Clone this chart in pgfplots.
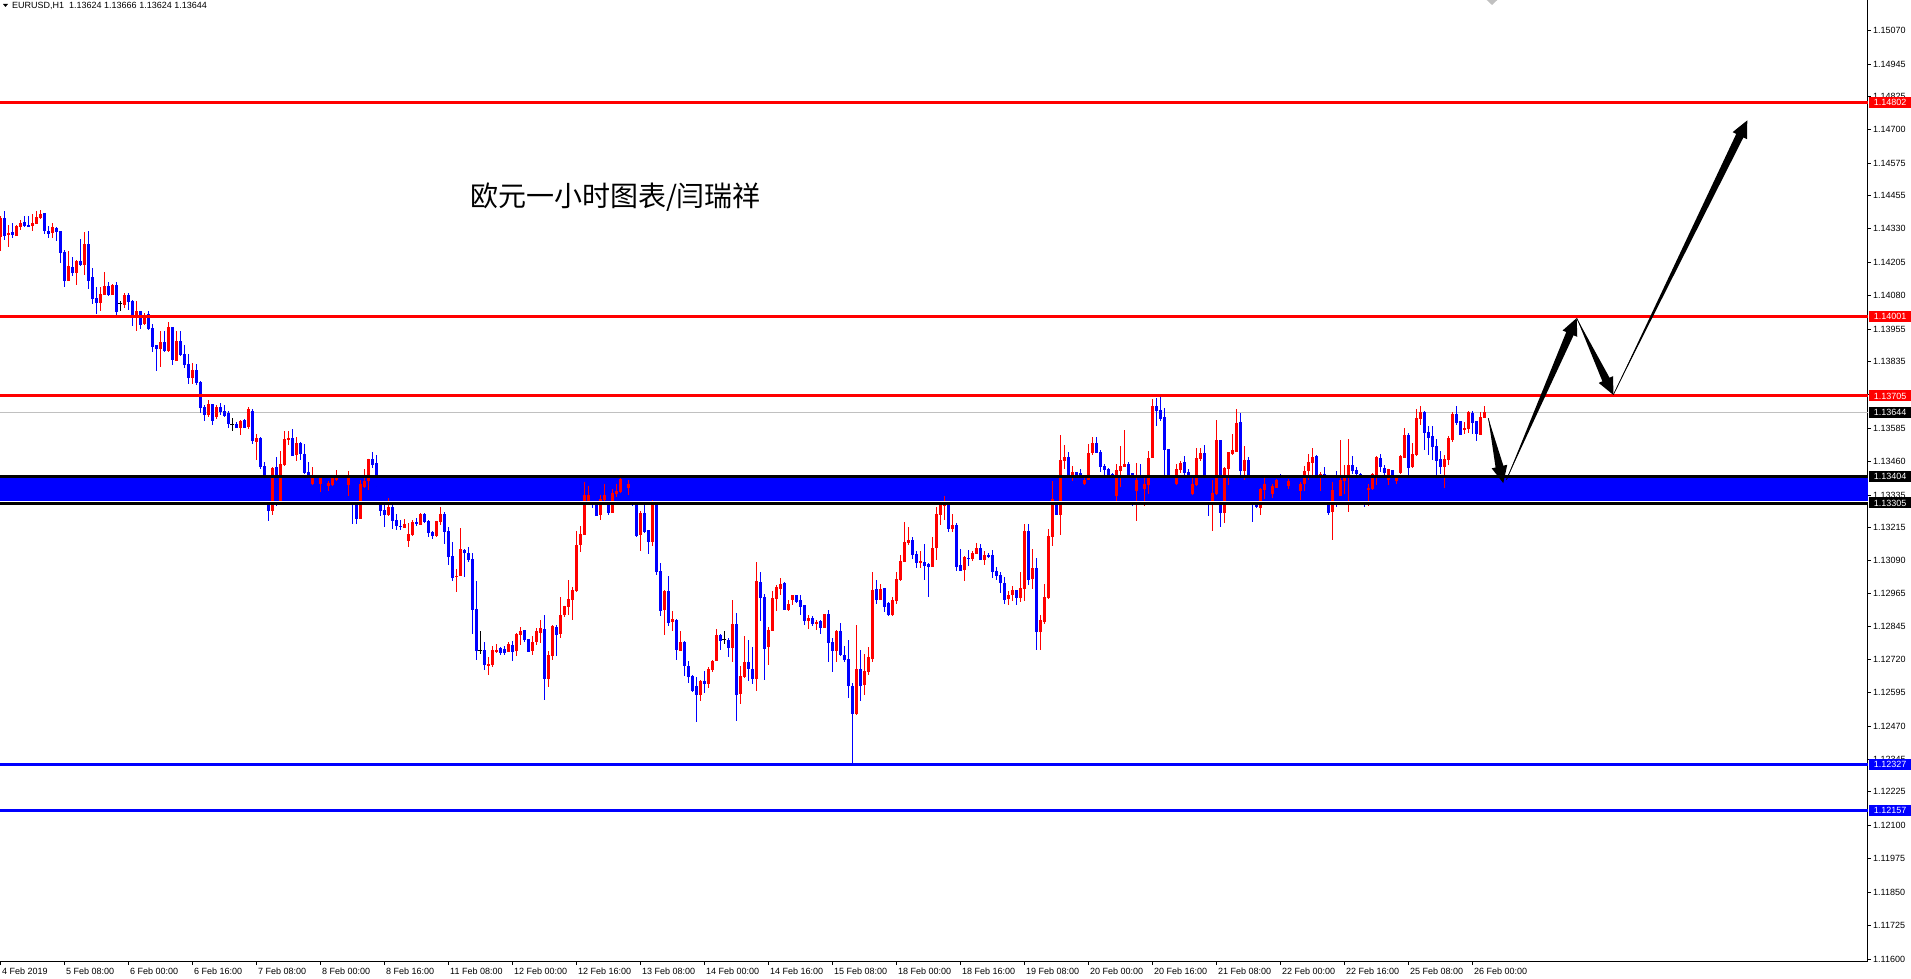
\documentclass[border=0pt]{standalone}
\usepackage{fontspec}
\setmainfont{Liberation Sans}
\newfontfamily\cjk{Noto Sans CJK SC}
\usepackage{pgfplots}
\usepackage{pgfplotstable}
\pgfplotsset{compat=1.18}
\usetikzlibrary{calc}

\definecolor{mtred}{RGB}{255,0,0}
\definecolor{mtblue}{RGB}{0,0,255}
\definecolor{bidgray}{RGB}{192,192,192}

% EURUSD H1, 4 Feb 16:00 onwards: bar, open, high, low, close
\pgfplotstableread{
i o h l c
0 1.14301 1.14376 1.14245 1.14372
1 1.14370 1.14395 1.14289 1.14305
2 1.14307 1.14345 1.14260 1.14316
3 1.14320 1.14351 1.14297 1.14307
4 1.14305 1.14345 1.14304 1.14341
5 1.14336 1.14363 1.14326 1.14352
6 1.14356 1.14378 1.14339 1.14341
7 1.14345 1.14376 1.14339 1.14341
8 1.14342 1.14386 1.14320 1.14352
9 1.14350 1.14397 1.14347 1.14375
10 1.14371 1.14401 1.14367 1.14386
11 1.14390 1.14390 1.14311 1.14322
12 1.14322 1.14339 1.14297 1.14312
13 1.14314 1.14351 1.14297 1.14337
14 1.14332 1.14335 1.14283 1.14320
15 1.14322 1.14322 1.14202 1.14241
16 1.14245 1.14251 1.14114 1.14135
17 1.14135 1.14248 1.14135 1.14189
18 1.14188 1.14223 1.14152 1.14165
19 1.14165 1.14214 1.14118 1.14210
20 1.14210 1.14292 1.14189 1.14195
21 1.14195 1.14316 1.14158 1.14274
22 1.14274 1.14322 1.14106 1.14135
23 1.14150 1.14184 1.14048 1.14069
24 1.14072 1.14112 1.14013 1.14053
25 1.14053 1.14112 1.14023 1.14087
26 1.14084 1.14168 1.14083 1.14117
27 1.14117 1.14130 1.14083 1.14084
28 1.14084 1.14124 1.14081 1.14122
29 1.14121 1.14130 1.14008 1.14021
30 1.14050 1.14061 1.14023 1.14050
31 1.14046 1.14089 1.14033 1.14083
32 1.14083 1.14088 1.14027 1.14058
33 1.14061 1.14064 1.13967 1.14008
34 1.13996 1.14061 1.13949 1.14023
35 1.14023 1.14023 1.13956 1.13971
36 1.13974 1.14015 1.13969 1.14008
37 1.14011 1.14021 1.13951 1.13956
38 1.13960 1.13975 1.13868 1.13889
39 1.13896 1.13896 1.13797 1.13881
40 1.13881 1.13946 1.13812 1.13908
41 1.13908 1.13949 1.13871 1.13874
42 1.13874 1.13982 1.13871 1.13964
43 1.13964 1.13964 1.13819 1.13840
44 1.13838 1.13946 1.13834 1.13911
45 1.13912 1.13949 1.13853 1.13859
46 1.13863 1.13896 1.13808 1.13822
47 1.13825 1.13863 1.13749 1.13774
48 1.13773 1.13828 1.13749 1.13804
49 1.13804 1.13825 1.13747 1.13753
50 1.13757 1.13759 1.13641 1.13662
51 1.13666 1.13670 1.13613 1.13637
52 1.13632 1.13691 1.13628 1.13676
53 1.13676 1.13676 1.13597 1.13613
54 1.13625 1.13670 1.13618 1.13664
55 1.13664 1.13679 1.13635 1.13645
56 1.13650 1.13670 1.13627 1.13632
57 1.13640 1.13647 1.13585 1.13601
58 1.13600 1.13622 1.13575 1.13600
59 1.13602 1.13607 1.13585 1.13587
60 1.13587 1.13615 1.13560 1.13612
61 1.13616 1.13617 1.13585 1.13587
62 1.13587 1.13662 1.13580 1.13657
63 1.13650 1.13655 1.13527 1.13535
64 1.13535 1.13564 1.13467 1.13550
65 1.13550 1.13550 1.13433 1.13442
66 1.13444 1.13459 1.13336 1.13348
67 1.13348 1.13348 1.13236 1.13274
68 1.13274 1.13438 1.13261 1.13436
69 1.13438 1.13478 1.13292 1.13299
70 1.13309 1.13500 1.13296 1.13452
71 1.13448 1.13575 1.13444 1.13544
72 1.13543 1.13575 1.13520 1.13548
73 1.13549 1.13583 1.13483 1.13483
74 1.13483 1.13553 1.13461 1.13530
75 1.13530 1.13533 1.13464 1.13488
76 1.13489 1.13527 1.13413 1.13416
77 1.13421 1.13457 1.13386 1.13405
78 1.13375 1.13438 1.13373 1.13405
79 1.13401 1.13405 1.13371 1.13380
80 1.13375 1.13401 1.13345 1.13401
81 1.13386 1.13392 1.13358 1.13367
82 1.13368 1.13388 1.13348 1.13378
83 1.13373 1.13401 1.13367 1.13401
84 1.13392 1.13429 1.13386 1.13401
85 1.13398 1.13405 1.13373 1.13380
86 1.13380 1.13386 1.13355 1.13367
87 1.13373 1.13426 1.13332 1.13398
88 1.13392 1.13398 1.13228 1.13324
89 1.13336 1.13342 1.13228 1.13246
90 1.13246 1.13392 1.13246 1.13376
91 1.13367 1.13433 1.13361 1.13390
92 1.13386 1.13471 1.13352 1.13471
93 1.13471 1.13494 1.13436 1.13448
94 1.13452 1.13486 1.13355 1.13367
95 1.13367 1.13373 1.13258 1.13276
96 1.13280 1.13314 1.13214 1.13259
97 1.13261 1.13324 1.13255 1.13291
98 1.13291 1.13299 1.13209 1.13239
99 1.13243 1.13265 1.13205 1.13220
100 1.13221 1.13241 1.13203 1.13214
101 1.13214 1.13246 1.13214 1.13228
102 1.13162 1.13231 1.13139 1.13191
103 1.13186 1.13243 1.13180 1.13235
104 1.13235 1.13249 1.13218 1.13224
105 1.13224 1.13267 1.13224 1.13265
106 1.13265 1.13269 1.13230 1.13234
107 1.13239 1.13241 1.13177 1.13195
108 1.13198 1.13200 1.13172 1.13184
109 1.13184 1.13238 1.13177 1.13238
110 1.13234 1.13291 1.13221 1.13265
111 1.13265 1.13271 1.13153 1.13199
112 1.13201 1.13214 1.13072 1.13105
113 1.13108 1.13160 1.13012 1.13027
114 1.13027 1.13059 1.12971 1.13032
115 1.13032 1.13213 1.13032 1.13134
116 1.13130 1.13133 1.13027 1.13117
117 1.13119 1.13139 1.13083 1.13094
118 1.13097 1.13118 1.12816 1.12906
119 1.12910 1.13012 1.12717 1.12754
120 1.12755 1.12828 1.12740 1.12755
121 1.12757 1.12785 1.12682 1.12698
122 1.12698 1.12730 1.12663 1.12702
123 1.12698 1.12771 1.12690 1.12757
124 1.12750 1.12779 1.12744 1.12757
125 1.12763 1.12768 1.12735 1.12744
126 1.12761 1.12771 1.12735 1.12746
127 1.12750 1.12786 1.12748 1.12779
128 1.12775 1.12790 1.12713 1.12750
129 1.12754 1.12819 1.12731 1.12816
130 1.12812 1.12841 1.12775 1.12827
131 1.12831 1.12831 1.12784 1.12794
132 1.12798 1.12798 1.12750 1.12750
133 1.12753 1.12809 1.12738 1.12785
134 1.12784 1.12837 1.12775 1.12827
135 1.12821 1.12869 1.12781 1.12837
136 1.12835 1.12887 1.12567 1.12649
137 1.12649 1.12750 1.12616 1.12738
138 1.12734 1.12850 1.12719 1.12846
139 1.12844 1.12847 1.12731 1.12812
140 1.12817 1.12952 1.12800 1.12887
141 1.12885 1.12921 1.12877 1.12921
142 1.12918 1.13018 1.12885 1.12947
143 1.12945 1.12991 1.12866 1.12981
144 1.12975 1.13201 1.12972 1.13149
145 1.13147 1.13220 1.13120 1.13190
146 1.13186 1.13382 1.13186 1.13336
147 1.13311 1.13367 1.13296 1.13336
148 1.13323 1.13330 1.13286 1.13301
149 1.13305 1.13313 1.13255 1.13259
150 1.13261 1.13336 1.13240 1.13322
151 1.13315 1.13377 1.13311 1.13333
152 1.13323 1.13326 1.13261 1.13267
153 1.13266 1.13358 1.13266 1.13343
154 1.13338 1.13377 1.13326 1.13351
155 1.13348 1.13401 1.13342 1.13396
156 1.13392 1.13398 1.13342 1.13348
157 1.13361 1.13389 1.13333 1.13377
158 1.13373 1.13380 1.13292 1.13311
159 1.13317 1.13317 1.13176 1.13184
160 1.13186 1.13274 1.13127 1.13267
161 1.13267 1.13311 1.13193 1.13195
162 1.13203 1.13205 1.13115 1.13158
163 1.13161 1.13317 1.13143 1.13311
164 1.13311 1.13317 1.13037 1.13049
165 1.13052 1.13082 1.12881 1.12903
166 1.12903 1.12980 1.12810 1.12977
167 1.12977 1.13033 1.12844 1.12859
168 1.12859 1.12900 1.12825 1.12872
169 1.12869 1.12871 1.12717 1.12754
170 1.12754 1.12827 1.12750 1.12786
171 1.12786 1.12788 1.12659 1.12694
172 1.12698 1.12715 1.12631 1.12655
173 1.12658 1.12660 1.12598 1.12603
174 1.12623 1.12654 1.12486 1.12589
175 1.12589 1.12644 1.12563 1.12641
176 1.12641 1.12675 1.12594 1.12629
177 1.12629 1.12690 1.12613 1.12685
178 1.12683 1.12718 1.12674 1.12715
179 1.12715 1.12832 1.12713 1.12812
180 1.12812 1.12815 1.12756 1.12791
181 1.12793 1.12827 1.12779 1.12793
182 1.12795 1.12800 1.12730 1.12765
183 1.12765 1.12943 1.12709 1.12854
184 1.12854 1.12893 1.12489 1.12589
185 1.12589 1.12694 1.12553 1.12659
186 1.12655 1.12806 1.12651 1.12712
187 1.12713 1.12794 1.12638 1.12685
188 1.12685 1.12765 1.12628 1.12648
189 1.12648 1.13083 1.12601 1.13012
190 1.13012 1.13046 1.12865 1.12952
191 1.12956 1.12965 1.12644 1.12760
192 1.12765 1.12840 1.12698 1.12831
193 1.12829 1.12977 1.12825 1.12952
194 1.12948 1.12999 1.12900 1.12990
195 1.12986 1.13023 1.12962 1.13004
196 1.13004 1.13008 1.12906 1.12906
197 1.12906 1.12943 1.12900 1.12928
198 1.12941 1.12962 1.12922 1.12960
199 1.12960 1.12962 1.12932 1.12936
200 1.12941 1.12962 1.12887 1.12918
201 1.12925 1.12925 1.12847 1.12866
202 1.12864 1.12886 1.12835 1.12875
203 1.12875 1.12881 1.12844 1.12854
204 1.12854 1.12866 1.12829 1.12862
205 1.12866 1.12869 1.12816 1.12839
206 1.12839 1.12891 1.12836 1.12889
207 1.12889 1.12906 1.12709 1.12783
208 1.12786 1.12801 1.12674 1.12754
209 1.12754 1.12831 1.12709 1.12828
210 1.12828 1.12856 1.12735 1.12738
211 1.12738 1.12769 1.12709 1.12719
212 1.12723 1.12794 1.12575 1.12620
213 1.12623 1.12633 1.12327 1.12517
214 1.12516 1.12848 1.12511 1.12685
215 1.12685 1.12757 1.12566 1.12623
216 1.12626 1.12742 1.12588 1.12676
217 1.12672 1.12765 1.12661 1.12728
218 1.12723 1.13048 1.12709 1.12981
219 1.12985 1.13018 1.12928 1.12943
220 1.12943 1.13003 1.12941 1.12985
221 1.12988 1.12988 1.12896 1.12918
222 1.12931 1.12933 1.12881 1.12886
223 1.12886 1.12953 1.12884 1.12943
224 1.12940 1.13046 1.12928 1.13022
225 1.13018 1.13112 1.13014 1.13089
226 1.13085 1.13232 1.13083 1.13160
227 1.13158 1.13214 1.13146 1.13168
228 1.13168 1.13178 1.13095 1.13109
229 1.13115 1.13127 1.13062 1.13083
230 1.13083 1.13124 1.13062 1.13089
231 1.13085 1.13151 1.13018 1.13070
232 1.13078 1.13080 1.12952 1.13068
233 1.13068 1.13176 1.13065 1.13137
234 1.13137 1.13289 1.13090 1.13265
235 1.13259 1.13311 1.13224 1.13302
236 1.13295 1.13332 1.13240 1.13302
237 1.13302 1.13311 1.13195 1.13209
238 1.13209 1.13265 1.13196 1.13224
239 1.13224 1.13230 1.13049 1.13068
240 1.13073 1.13134 1.13049 1.13053
241 1.13053 1.13105 1.13014 1.13104
242 1.13102 1.13128 1.13068 1.13097
243 1.13097 1.13124 1.13087 1.13117
244 1.13115 1.13156 1.13114 1.13138
245 1.13138 1.13153 1.13093 1.13093
246 1.13093 1.13124 1.13074 1.13112
247 1.13112 1.13117 1.13098 1.13103
248 1.13112 1.13130 1.13023 1.13049
249 1.13052 1.13066 1.13016 1.13033
250 1.13037 1.13046 1.12968 1.13006
251 1.13008 1.13027 1.12928 1.12943
252 1.12947 1.12977 1.12922 1.12962
253 1.12960 1.12993 1.12937 1.12981
254 1.12981 1.12981 1.12925 1.12950
255 1.12950 1.13047 1.12935 1.12987
256 1.12984 1.13226 1.12937 1.13201
257 1.13201 1.13226 1.12999 1.13018
258 1.13022 1.13134 1.12984 1.13064
259 1.13064 1.13099 1.12756 1.12823
260 1.12823 1.12885 1.12756 1.12869
261 1.12860 1.13003 1.12852 1.12955
262 1.12950 1.13209 1.12947 1.13183
263 1.13180 1.13386 1.13143 1.13321
264 1.13321 1.13323 1.13261 1.13261
265 1.13261 1.13560 1.13186 1.13467
266 1.13463 1.13523 1.13433 1.13475
267 1.13475 1.13494 1.13404 1.13411
268 1.13411 1.13442 1.13386 1.13421
269 1.13421 1.13421 1.13398 1.13408
270 1.13417 1.13432 1.13398 1.13408
271 1.13376 1.13402 1.13373 1.13393
272 1.13392 1.13526 1.13389 1.13492
273 1.13492 1.13550 1.13485 1.13529
274 1.13529 1.13550 1.13492 1.13494
275 1.13498 1.13504 1.13421 1.13442
276 1.13444 1.13452 1.13408 1.13429
277 1.13433 1.13436 1.13386 1.13411
278 1.13413 1.13417 1.13392 1.13398
279 1.13330 1.13452 1.13311 1.13429
280 1.13426 1.13516 1.13363 1.13444
281 1.13442 1.13579 1.13442 1.13452
282 1.13452 1.13457 1.13404 1.13411
283 1.13417 1.13417 1.13292 1.13398
284 1.13348 1.13454 1.13239 1.13392
285 1.13411 1.13452 1.13305 1.13373
286 1.13358 1.13398 1.13292 1.13377
287 1.13373 1.13498 1.13340 1.13475
288 1.13475 1.13693 1.13473 1.13669
289 1.13669 1.13697 1.13594 1.13650
290 1.13654 1.13703 1.13610 1.13619
291 1.13627 1.13660 1.13411 1.13504
292 1.13508 1.13508 1.13379 1.13398
293 1.13401 1.13404 1.13373 1.13386
294 1.13377 1.13452 1.13373 1.13433
295 1.13429 1.13463 1.13417 1.13454
296 1.13458 1.13479 1.13402 1.13417
297 1.13421 1.13433 1.13404 1.13408
298 1.13338 1.13404 1.13336 1.13377
299 1.13373 1.13510 1.13367 1.13473
300 1.13470 1.13510 1.13463 1.13492
301 1.13492 1.13523 1.13311 1.13323
302 1.13317 1.13317 1.13255 1.13296
303 1.13311 1.13392 1.13199 1.13342
304 1.13338 1.13616 1.13336 1.13541
305 1.13541 1.13541 1.13214 1.13267
306 1.13267 1.13438 1.13230 1.13436
307 1.13433 1.13495 1.13373 1.13495
308 1.13489 1.13564 1.13485 1.13502
309 1.13498 1.13657 1.13495 1.13607
310 1.13607 1.13641 1.13411 1.13423
311 1.13423 1.13519 1.13392 1.13467
312 1.13467 1.13475 1.13379 1.13386
313 1.13386 1.13392 1.13232 1.13298
314 1.13317 1.13317 1.13286 1.13289
315 1.13289 1.13361 1.13261 1.13358
316 1.13355 1.13398 1.13321 1.13377
317 1.13377 1.13386 1.13311 1.13348
318 1.13338 1.13377 1.13323 1.13370
319 1.13363 1.13396 1.13361 1.13392
320 1.13401 1.13414 1.13383 1.13388
321 1.13388 1.13396 1.13367 1.13373
322 1.13367 1.13394 1.13358 1.13388
323 1.13386 1.13392 1.13308 1.13336
324 1.13361 1.13367 1.13336 1.13348
325 1.13351 1.13383 1.13317 1.13377
326 1.13376 1.13442 1.13351 1.13426
327 1.13423 1.13488 1.13392 1.13458
328 1.13455 1.13510 1.13411 1.13478
329 1.13479 1.13483 1.13404 1.13411
330 1.13408 1.13421 1.13351 1.13413
331 1.13413 1.13439 1.13311 1.13317
332 1.13317 1.13317 1.13259 1.13267
333 1.13270 1.13383 1.13165 1.13355
334 1.13355 1.13426 1.13289 1.13336
335 1.13333 1.13541 1.13330 1.13392
336 1.13386 1.13446 1.13338 1.13401
337 1.13398 1.13545 1.13270 1.13447
338 1.13447 1.13479 1.13413 1.13426
339 1.13429 1.13438 1.13411 1.13413
340 1.13413 1.13417 1.13308 1.13336
341 1.13336 1.13342 1.13289 1.13311
342 1.13352 1.13376 1.13292 1.13361
343 1.13358 1.13417 1.13352 1.13413
344 1.13411 1.13479 1.13371 1.13475
345 1.13473 1.13488 1.13421 1.13438
346 1.13438 1.13448 1.13411 1.13417
347 1.13392 1.13433 1.13371 1.13433
348 1.13429 1.13429 1.13408 1.13411
349 1.13388 1.13411 1.13377 1.13401
350 1.13417 1.13483 1.13413 1.13479
351 1.13475 1.13585 1.13473 1.13560
352 1.13560 1.13566 1.13411 1.13438
353 1.13438 1.13529 1.13436 1.13489
354 1.13485 1.13657 1.13479 1.13625
355 1.13622 1.13669 1.13598 1.13645
356 1.13644 1.13647 1.13504 1.13566
357 1.13569 1.13591 1.13485 1.13550
358 1.13554 1.13591 1.13467 1.13513
359 1.13517 1.13544 1.13411 1.13463
360 1.13470 1.13498 1.13413 1.13438
361 1.13438 1.13485 1.13361 1.13470
362 1.13467 1.13554 1.13448 1.13548
363 1.13541 1.13644 1.13533 1.13639
364 1.13639 1.13669 1.13598 1.13606
365 1.13610 1.13612 1.13560 1.13560
366 1.13583 1.13606 1.13564 1.13585
367 1.13583 1.13647 1.13566 1.13645
368 1.13641 1.13650 1.13563 1.13604
369 1.13610 1.13612 1.13535 1.13563
370 1.13560 1.13645 1.13558 1.13625
371 1.13624 1.13666 1.13624 1.13644
}\eurusd

% hand-drawn style arrow: thin tail widening into the head
\newcommand{\taparrow}[2]{%
  \coordinate (tA) at (#1);
  \coordinate (tB) at (#2);
  \coordinate (tH) at ($(tB)!17pt!(tA)$);
  \fill[black] (tA) -- ($(tH)!4pt!90:(tB)$) -- ($(tH)!8pt!90:(tB)$) -- (tB)
    -- ($(tH)!8pt!-90:(tB)$) -- ($(tH)!4pt!-90:(tB)$) -- cycle;
  \draw[black, line width=0.7pt] (tA) -- (tH);
}

\pgfplotsset{
  nomark/.style={only marks, mark=*, mark size=0pt,
    mark options={draw=none, fill=none}, forget plot},
  wick/.style={nomark,
    error bars/y dir=both, error bars/y explicit, error bars/error mark=none,
    error bars/error bar style={line width=1pt, draw=#1}},
  body/.style={nomark,
    error bars/y dir=both, error bars/y explicit, error bars/error mark=none,
    error bars/error bar style={line width=3pt, draw=#1}},
  up/.style={restrict expr to domain={\thisrow{c}-\thisrow{o}}{0.000005:1}},
  down/.style={restrict expr to domain={\thisrow{c}-\thisrow{o}}{-1:-0.000005}},
  flat/.style={restrict expr to domain={\thisrow{c}-\thisrow{o}}{-0.000005:0.000005}},
  hline/.style={no marks, forget plot, line width=3pt, #1},
}

\begin{document}
\begin{tikzpicture}
\begin{axis}[
  at={(0pt,0pt)}, anchor=south west,
  scale only axis, width=1868pt, height=962pt,
  xmin=-0.125, xmax=466.875, ymin=1.11589, ymax=1.15185,
  axis x line*=bottom, axis y line*=right,
  axis line style={line width=1pt, black},
  tick align=outside, major tick length=3pt,
  tick style={black, line width=0.8pt},
  clip mode=individual,
  xtick={0,16,...,368},
  xticklabels={4 Feb 2019, 5 Feb 08:00, 6 Feb 00:00, 6 Feb 16:00, 7 Feb 08:00,
    8 Feb 00:00, 8 Feb 16:00, 11 Feb 08:00, 12 Feb 00:00, 12 Feb 16:00,
    13 Feb 08:00, 14 Feb 00:00, 14 Feb 16:00, 15 Feb 08:00, 18 Feb 00:00,
    18 Feb 16:00, 19 Feb 08:00, 20 Feb 00:00, 20 Feb 16:00, 21 Feb 08:00,
    22 Feb 00:00, 22 Feb 16:00, 25 Feb 08:00, 26 Feb 00:00},
  ytick={1.11600,1.11725,1.11850,1.11975,1.12100,1.12225,1.12345,1.12470,
    1.12595,1.12720,1.12845,1.12965,1.13090,1.13215,1.13335,1.13460,1.13585,
    1.13710,1.13835,1.13955,1.14080,1.14205,1.14330,1.14455,1.14575,1.14700,
    1.14825,1.14945,1.15070},
  yticklabels={1.11600,1.11725,1.11850,1.11975,1.12100,1.12225,1.12345,1.12470,
    1.12595,1.12720,1.12845,1.12965,1.13090,1.13215,1.13335,1.13460,1.13585,
    1.13710,1.13835,1.13955,1.14080,1.14205,1.14330,1.14455,1.14575,1.14700,
    1.14825,1.14945,1.15070},
  scaled y ticks=false,
  xticklabel style={font=\fontsize{9}{10}\selectfont, anchor=north west,
    inner sep=0pt, xshift=1.5pt, yshift=-3pt},
  yticklabel style={font=\fontsize{9}{10}\selectfont, anchor=west,
    inner sep=0pt, xshift=2pt},
]
% support band
\addplot[draw=none, fill=mtblue, forget plot] coordinates
  {(-0.125,1.13404) (466.875,1.13404) (466.875,1.13305) (-0.125,1.13305)} -- cycle;
% bid line
\addplot[no marks, forget plot, line width=1pt, bidgray] coordinates
  {(-0.125,1.13644) (466.875,1.13644)};

% candles
\addplot[down, wick=mtblue] table[x=i, y=c,
  y error plus expr=\thisrow{h}-\thisrow{c},
  y error minus expr=\thisrow{c}-\thisrow{l}] {\eurusd};
\addplot[down, body=mtblue] table[x=i, y expr=(\thisrow{o}+\thisrow{c})/2,
  y error expr=abs(\thisrow{c}-\thisrow{o})/2] {\eurusd};
\addplot[up, wick=mtred] table[x=i, y=c,
  y error plus expr=\thisrow{h}-\thisrow{c},
  y error minus expr=\thisrow{c}-\thisrow{l}] {\eurusd};
\addplot[up, body=mtred] table[x=i, y expr=(\thisrow{o}+\thisrow{c})/2,
  y error expr=abs(\thisrow{c}-\thisrow{o})/2] {\eurusd};
\addplot[flat, wick=black, mark=-, mark size=2pt,
  mark options={line width=1pt, draw=black}] table[x=i, y=c,
  y error plus expr=\thisrow{h}-\thisrow{c},
  y error minus expr=\thisrow{c}-\thisrow{l}] {\eurusd};

% levels
\addplot[hline=mtred] coordinates {(-0.125,1.14802) (466.875,1.14802)};
\addplot[hline=mtred] coordinates {(-0.125,1.14001) (466.875,1.14001)};
\addplot[hline=mtred] coordinates {(-0.125,1.13705) (466.875,1.13705)};
\addplot[hline=black] coordinates {(-0.125,1.13404) (466.875,1.13404)};
\addplot[no marks, forget plot, line width=1pt, white] coordinates
  {(-0.125,1.13312) (466.875,1.13312)};
\addplot[hline=black] coordinates {(-0.125,1.13304) (466.875,1.13304)};
\addplot[hline=mtblue] coordinates {(-0.125,1.12327) (466.875,1.12327)};
\addplot[hline=mtblue] coordinates {(-0.125,1.12157) (466.875,1.12157)};

% arrow ends
\coordinate (a0) at (axis cs:371.95,1.13622);
\coordinate (a1) at (axis cs:375.7,1.13379);
\coordinate (a2s) at (axis cs:376.5,1.13392);
\coordinate (a2) at (axis cs:394.05,1.13996);
\coordinate (a3) at (axis cs:403.2,1.13709);
\coordinate (a4) at (axis cs:436.7,1.14735);
% price tags
\coordinate (r1) at (axis cs:466.875,1.14802);
\coordinate (r2) at (axis cs:466.875,1.14001);
\coordinate (r3) at (axis cs:466.875,1.13705);
\coordinate (r4) at (axis cs:466.875,1.13644);
\coordinate (r5) at (axis cs:466.875,1.13404);
\coordinate (r6) at (axis cs:466.875,1.13305);
\coordinate (r7) at (axis cs:466.875,1.12327);
\coordinate (r8) at (axis cs:466.875,1.12157);
\end{axis}

\taparrow{a0}{a1}
\taparrow{a2s}{a2}
\taparrow{a2}{a3}
\taparrow{a3}{a4}

\tikzset{tag/.style={anchor=west, xshift=1pt, inner sep=0pt, minimum width=42pt,
  minimum height=11pt, text=white, font=\fontsize{9}{10}\selectfont}}
\node[tag, fill=mtred] at (r1) {1.14802};
\node[tag, fill=mtred] at (r2) {1.14001};
\node[tag, fill=mtred] at (r3) {1.13705};
\node[tag, fill=black] at (r4) {1.13644};
\node[tag, fill=black] at (r5) {1.13404};
\node[tag, fill=black] at (r6) {1.13305};
\node[tag, fill=mtblue] at (r7) {1.12327};
\node[tag, fill=mtblue] at (r8) {1.12157};

% header line and shift marker
\fill[black] (3pt,958pt) -- (8pt,958pt) -- (5.5pt,955pt) -- cycle;
\node[anchor=west, inner sep=0pt, font=\fontsize{9}{10}\selectfont] at (12pt,956pt)
  {EURUSD,H1\ \ 1.13624 1.13666 1.13624 1.13644};
\fill[bidgray] (1486.7pt,962pt) -- (1497.3pt,962pt) -- (1492pt,957pt) -- cycle;

\node[font=\cjk\fontsize{28}{34}\selectfont, inner sep=0pt] at (615.5pt,764.6pt)
  {欧元一小时图表/闫瑞祥};

\pgfresetboundingbox
\path[use as bounding box] (0pt,-17pt) rectangle (1911pt,962pt);
\end{tikzpicture}
\end{document}
